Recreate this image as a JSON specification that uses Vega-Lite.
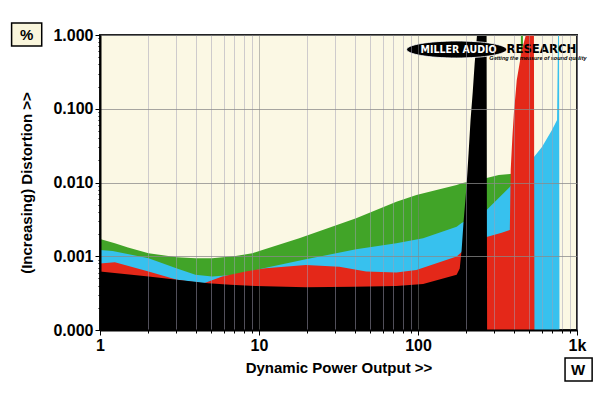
{
  "$schema": "https://vega.github.io/schema/vega-lite/v6.json",
  "width": 477,
  "height": 295,
  "autosize": {"type": "none"},
  "padding": {"left": 100, "top": 35, "right": 23, "bottom": 68},
  "background": "white",
  "view": {"fill": "#fbf8e4", "stroke": "#222222", "strokeWidth": 2},
  "config": {"font": "Liberation Sans"},
  "datasets": {
    "green": [
      {"P": 1, "D": 0.00171}, {"P": 1.24, "D": 0.0015}, {"P": 1.5, "D": 0.00131}, {"P": 2.02, "D": 0.0011},
      {"P": 3.05, "D": 0.00097}, {"P": 3.98, "D": 0.00094}, {"P": 5.08, "D": 0.00094}, {"P": 7.13, "D": 0.00101},
      {"P": 9.08, "D": 0.0011}, {"P": 10.5, "D": 0.00122}, {"P": 17.9, "D": 0.00175}, {"P": 40.8, "D": 0.00327},
      {"P": 73.1, "D": 0.00549}, {"P": 97.7, "D": 0.00677}, {"P": 175, "D": 0.00925}, {"P": 188, "D": 0.0098},
      {"P": 270, "D": 0.0115}, {"P": 322, "D": 0.0126}, {"P": 389, "D": 0.0131}, {"P": 437, "D": 0.0133},
      {"P": 444, "D": 1}, {"P": 457, "D": 1}, {"P": 460, "D": 0.0001}
    ],
    "cyan": [
      {"P": 1, "D": 0.00122}, {"P": 1.2, "D": 0.00118}, {"P": 2.02, "D": 0.00094}, {"P": 3.05, "D": 0.00068},
      {"P": 3.98, "D": 0.00056}, {"P": 5.08, "D": 0.00053}, {"P": 7.13, "D": 0.00056}, {"P": 10.5, "D": 0.00068},
      {"P": 19.7, "D": 0.00091}, {"P": 40.8, "D": 0.00124}, {"P": 73.1, "D": 0.0015}, {"P": 107.7, "D": 0.00175},
      {"P": 175, "D": 0.00252}, {"P": 188, "D": 0.00283}, {"P": 270, "D": 0.00424}, {"P": 378, "D": 0.0087},
      {"P": 450, "D": 0.0148}, {"P": 536, "D": 0.0222}, {"P": 602, "D": 0.0303}, {"P": 696, "D": 0.0515},
      {"P": 749, "D": 0.0704}, {"P": 760, "D": 1}, {"P": 771, "D": 1}, {"P": 776, "D": 0.0001}
    ],
    "red": [
      {"P": 1, "D": 0.0008}, {"P": 1.24, "D": 0.00083}, {"P": 2.02, "D": 0.00062}, {"P": 3.05, "D": 0.00048},
      {"P": 4.5, "D": 0.00043}, {"P": 5.87, "D": 0.00053}, {"P": 8.24, "D": 0.00062}, {"P": 11, "D": 0.00069},
      {"P": 19.7, "D": 0.00076}, {"P": 32, "D": 0.00072}, {"P": 47.2, "D": 0.00062}, {"P": 73.1, "D": 0.0006},
      {"P": 97.7, "D": 0.00065}, {"P": 175, "D": 0.00099}, {"P": 188, "D": 0.00114}, {"P": 270, "D": 0.00183},
      {"P": 336, "D": 0.00209}, {"P": 378, "D": 0.00227}, {"P": 383, "D": 0.015}, {"P": 392, "D": 0.04},
      {"P": 401, "D": 0.0875}, {"P": 418, "D": 0.245}, {"P": 450, "D": 0.626}, {"P": 477, "D": 1},
      {"P": 536, "D": 1}, {"P": 540, "D": 0.0001}
    ],
    "black": [
      {"P": 1, "D": 0.00062}, {"P": 2.02, "D": 0.00053}, {"P": 3.05, "D": 0.00048}, {"P": 4.8, "D": 0.00043},
      {"P": 6.6, "D": 0.00041}, {"P": 9.5, "D": 0.000395}, {"P": 19.7, "D": 0.00038}, {"P": 40, "D": 0.000386},
      {"P": 73.1, "D": 0.000395}, {"P": 107.7, "D": 0.00042}, {"P": 175, "D": 0.00056}, {"P": 183, "D": 0.00068},
      {"P": 188, "D": 0.0012}, {"P": 193.6, "D": 0.003}, {"P": 202, "D": 0.009}, {"P": 208, "D": 0.025},
      {"P": 214, "D": 0.07}, {"P": 221, "D": 0.17}, {"P": 227, "D": 0.4}, {"P": 235, "D": 1},
      {"P": 270, "D": 1}, {"P": 272, "D": 0.0001}
    ]
  },
  "layer": [
    {
      "data": {"name": "green"},
      "mark": {"type": "area", "color": "#41a428", "opacity": 1},
      "encoding": {
        "x": {
          "field": "P", "type": "quantitative",
          "scale": {"type": "log", "domain": [1, 1000], "nice": false},
          "axis": {
            "title": "Dynamic Power Output >>",
            "values": [1, 2, 3, 4, 5, 6, 7, 8, 9, 10, 20, 30, 40, 50, 60, 70, 80, 90, 100, 200, 300, 400, 500, 600, 700, 800, 900, 1000],
            "labelExpr": "datum.value==1?'1':datum.value==10?'10':datum.value==100?'100':datum.value==1000?'1k':''",
            "grid": true,
            "gridColor": {"condition": {"test": "datum.value==10||datum.value==100", "value": "#808080"}, "value": "#a29eb4"},
            "gridOpacity": 0.5,
            "gridWidth": 1,
            "tickSize": {"condition": {"test": "datum.value==1||datum.value==10||datum.value==100||datum.value==1000", "value": 5}, "value": 3},
            "tickColor": "black",
            "domainColor": "black",
            "domainWidth": 2,
            "labelFont": "Liberation Sans",
            "labelFontSize": 16,
            "labelFontWeight": "bold",
            "labelColor": "black",
            "labelPadding": 2,
            "labelOverlap": false,
            "labelFlush": false,
            "labelBound": false,
            "titleFont": "Liberation Sans",
            "titleFontSize": 15,
            "titleFontWeight": "bold",
            "titleColor": "black",
            "titlePadding": 7,
            "zindex": 1
          }
        },
        "y": {
          "field": "D", "type": "quantitative",
          "scale": {"type": "log", "domain": [0.0001, 1], "nice": false},
          "axis": {
            "title": "(Increasing) Distortion >>",
            "values": [0.0001, 0.0002, 0.0003, 0.0004, 0.0005, 0.0006, 0.0007, 0.0008, 0.0009, 0.001, 0.002, 0.003, 0.004, 0.005, 0.006, 0.007, 0.008, 0.009, 0.01, 0.02, 0.03, 0.04, 0.05, 0.06, 0.07, 0.08, 0.09, 0.1, 0.2, 0.3, 0.4, 0.5, 0.6, 0.7, 0.8, 0.9, 1],
            "labelExpr": "(datum.value==0.0001||datum.value==0.001||datum.value==0.01||datum.value==0.1||datum.value==1)?format(datum.value,'.3f'):''",
            "grid": true,
            "gridColor": "#8a8a8a",
            "gridOpacity": {"condition": {"test": "datum.value==0.0001||datum.value==0.001||datum.value==0.01||datum.value==0.1||datum.value==1", "value": 0.75}, "value": 0},
            "tickSize": {"condition": {"test": "datum.value==0.0001||datum.value==0.001||datum.value==0.01||datum.value==0.1||datum.value==1", "value": 5}, "value": 2},
            "tickColor": "black",
            "domainColor": "black",
            "domainWidth": 2,
            "labelFont": "Liberation Sans",
            "labelFontSize": 16,
            "labelFontWeight": "bold",
            "labelColor": "black",
            "labelPadding": 2,
            "labelOverlap": false,
            "labelFlush": false,
            "labelBound": false,
            "titleFont": "Liberation Sans",
            "titleFontSize": 15,
            "titleFontWeight": "bold",
            "titleColor": "black",
            "titlePadding": 18,
            "zindex": 1
          }
        },
        "y2": {"datum": 0.0001}
      }
    },
    {
      "data": {"name": "cyan"},
      "mark": {"type": "area", "color": "#37c1ee", "opacity": 1},
      "encoding": {
        "x": {"field": "P", "type": "quantitative"},
        "y": {"field": "D", "type": "quantitative"},
        "y2": {"datum": 0.0001}
      }
    },
    {
      "data": {"name": "red"},
      "mark": {"type": "area", "color": "#e42819", "opacity": 1},
      "encoding": {
        "x": {"field": "P", "type": "quantitative"},
        "y": {"field": "D", "type": "quantitative"},
        "y2": {"datum": 0.0001}
      }
    },
    {
      "data": {"name": "black"},
      "mark": {"type": "area", "color": "#000000", "opacity": 1},
      "encoding": {
        "x": {"field": "P", "type": "quantitative"},
        "y": {"field": "D", "type": "quantitative"},
        "y2": {"datum": 0.0001}
      }
    },
    {
      "data": {"values": [{"logo": "ellipse"}]},
      "mark": {"type": "point", "shape": "M-1,0A1,0.17 0 1,0 1,0A1,0.17 0 1,0 -1,0Z", "filled": true, "color": "black", "opacity": 1, "size": 10000, "stroke": "white", "strokeWidth": 0.8},
      "encoding": {"x": {"datum": 175}, "y": {"datum": 0.636}}
    },
    {
      "data": {"values": [{"t": "MILLER AUDIO"}]},
      "mark": {"type": "text", "font": "DejaVu Sans Condensed", "fontWeight": "bold", "fontSize": 10.5, "color": "white", "align": "center", "baseline": "middle"},
      "encoding": {"x": {"datum": 180}, "y": {"datum": 0.626}, "text": {"field": "t"}}
    },
    {
      "data": {"values": [{"t": "RESEARCH"}]},
      "mark": {"type": "text", "font": "DejaVu Sans Condensed", "fontWeight": "bold", "fontSize": 13, "color": "black", "align": "left", "baseline": "middle"},
      "encoding": {"x": {"datum": 360}, "y": {"datum": 0.646}, "text": {"field": "t"}}
    },
    {
      "data": {"values": [{"t": "Getting the measure of sound quality"}]},
      "mark": {"type": "text", "font": "Liberation Sans", "fontWeight": "bold", "fontStyle": "italic", "fontSize": 5.5, "color": "black", "align": "center", "baseline": "middle"},
      "encoding": {"x": {"datum": 568}, "y": {"datum": 0.495}, "text": {"field": "t"}}
    },
    {
      "data": {"values": [{"box": "%"}]},
      "mark": {"type": "rect", "fill": "#faf6dc", "stroke": "black", "strokeWidth": 1.5},
      "encoding": {"x": {"datum": 0.278}, "x2": {"datum": 0.43}, "y": {"datum": 1.455}, "y2": {"datum": 0.709}}
    },
    {
      "data": {"values": [{"t": "%"}]},
      "mark": {"type": "text", "font": "Liberation Sans", "fontWeight": "bold", "fontSize": 15, "color": "black", "align": "center", "baseline": "middle"},
      "encoding": {"x": {"datum": 0.346}, "y": {"datum": 1.0}, "text": {"field": "t"}}
    },
    {
      "data": {"values": [{"box": "W"}]},
      "mark": {"type": "rect", "fill": "white", "stroke": "black", "strokeWidth": 1.5},
      "encoding": {"x": {"datum": 841}, "x2": {"datum": 1245}, "y": {"datum": 0.0000417}, "y2": {"datum": 0.0000203}}
    },
    {
      "data": {"values": [{"t": "W"}]},
      "mark": {"type": "text", "font": "Liberation Sans", "fontWeight": "bold", "fontSize": 15, "color": "black", "align": "center", "baseline": "middle"},
      "encoding": {"x": {"datum": 1016}, "y": {"datum": 0.0000287}, "text": {"field": "t"}}
    }
  ]
}
